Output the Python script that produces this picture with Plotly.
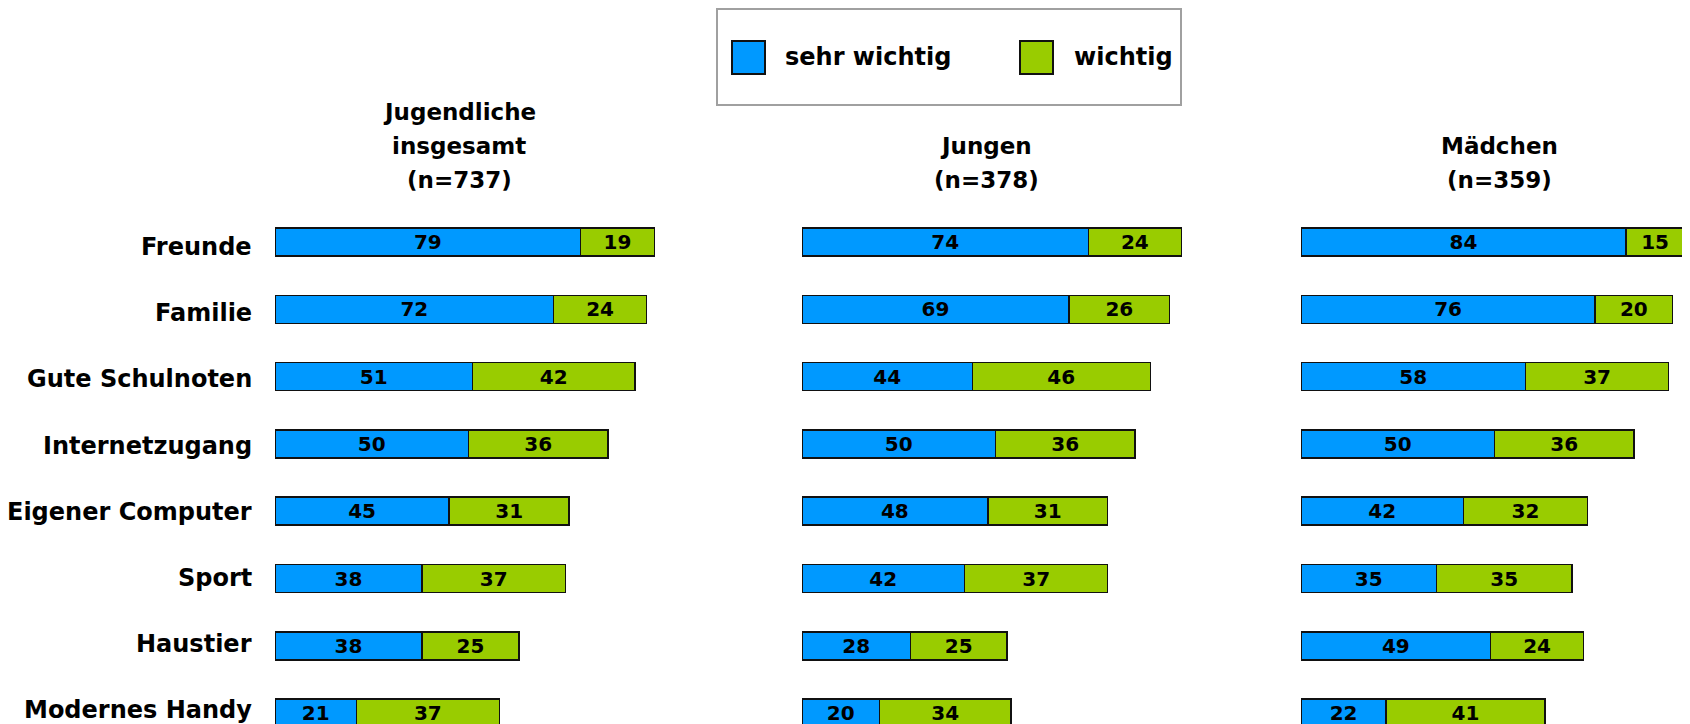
import plotly.graph_objects as go

categories = ["Freunde", "Familie", "Gute Schulnoten", "Internetzugang",
              "Eigener Computer", "Sport", "Haustier", "Modernes Handy"]
series_names = ["sehr wichtig", "wichtig"]
panel_titles = [["Jugendliche", "insgesamt", "(n=737)"], ["Jungen", "(n=378)"], ["Mädchen", "(n=359)"]]

gesamt_sehr = [79, 72, 51, 50, 45, 38, 38, 21]
gesamt_wichtig = [19, 24, 42, 36, 31, 37, 25, 37]
jungen_sehr = [74, 69, 44, 50, 48, 42, 28, 20]
jungen_wichtig = [24, 26, 46, 36, 31, 37, 25, 34]
maedchen_sehr = [84, 76, 58, 50, 42, 35, 49, 22]
maedchen_wichtig = [15, 20, 37, 36, 32, 35, 24, 41]

colors = ["#0099FF", "#99CC00"]
OFF = 8  # page body margin
W, H = 1690 - OFF, 724 - OFF
FONT = "DejaVu Sans"


def px(x):
    return (x - OFF) / W


def py(y):
    return 1 - (y - OFF) / H


panels = [(gesamt_sehr, gesamt_wichtig), (jungen_sehr, jungen_wichtig), (maedchen_sehr, maedchen_wichtig)]
domains_px = [(275, 662), (802, 1189), (1301, 1688)]
title_x_px = [459, 986, 1499]

# row geometry (viewport px): first row centre 242, pitch 67.3
row0, pitch = 242, 67.3
top_units = (row0 - OFF) / pitch
bottom_units = H / pitch - top_units
# label rows (slightly tighter pitch than the bars, as in the original)
label0, label_pitch = 247.2, 66.15

fig = go.Figure()
for i, (sehr, wichtig) in enumerate(panels):
    xa = "x" if i == 0 else f"x{i+1}"
    ya = "y" if i == 0 else f"y{i+1}"
    for vals, name, col in zip((sehr, wichtig), series_names, colors):
        fig.add_trace(go.Bar(
            y=categories, x=vals, orientation="h", name=name,
            marker=dict(color=col, line=dict(color="#111111", width=1.5)),
            width=28 / pitch, text=vals, textposition="inside",
            insidetextanchor="middle", textangle=0,
            textfont=dict(family=FONT, size=20, color="black", weight="bold"),
            xaxis=xa, yaxis=ya, showlegend=False, hoverinfo="skip"))

layout = dict(
    width=W, height=H, margin=dict(l=0, r=0, t=0, b=0),
    paper_bgcolor="white", plot_bgcolor="white", barmode="stack",
    uniformtext=dict(mode="show", minsize=20),
    font=dict(family=FONT, color="black"),
)
for i, (a, b) in enumerate(domains_px):
    sfx = "" if i == 0 else str(i + 1)
    layout[f"xaxis{sfx}"] = dict(domain=[px(a), px(b)], range=[0, 100], visible=False, fixedrange=True)
    yax = dict(domain=[0, 1], range=[bottom_units - 1e-9, -top_units], showgrid=False, zeroline=False,
               showline=False, ticks="", fixedrange=True, showticklabels=False,
               anchor="x" if i == 0 else f"x{i+1}")
    if i > 0:
        yax.update(matches="y")
    layout[f"yaxis{sfx}"] = yax
fig.update_layout(**layout)

# category labels (left of first panel)
for k, c in enumerate(categories):
    fig.add_annotation(x=px(domains_px[0][0] - 21), y=py(label0 + label_pitch * k),
                       xref="paper", yref="paper",
                       text=c, showarrow=False, xanchor="right", yanchor="middle",
                       font=dict(family=FONT, size=24, color="black", weight="bold"))

# panel titles
for tx, lines in zip(title_x_px, panel_titles):
    ys = [112, 145.5, 180] if len(lines) == 3 else [145.5, 180]
    for t, yy in zip(lines, ys):
        fig.add_annotation(x=px(tx), y=py(yy), xref="paper", yref="paper",
                           text=t, showarrow=False, xanchor="center", yanchor="middle",
                           font=dict(family=FONT, size=23, color="black", weight="bold"))

# custom legend
fig.add_shape(type="rect", xref="paper", yref="paper",
              x0=px(717), x1=px(1181), y0=py(9), y1=py(105),
              line=dict(color="#A0A0A0", width=2), fillcolor="white")
leg_sq = [732, 1020]
leg_tx = [783, 1072]
for name, col, sx, tx in zip(series_names, colors, leg_sq, leg_tx):
    fig.add_shape(type="rect", xref="paper", yref="paper",
                  x0=px(sx), x1=px(sx + 33), y0=py(41), y1=py(74),
                  line=dict(color="#111111", width=2), fillcolor=col)
    fig.add_annotation(x=px(tx), y=py(57), xref="paper", yref="paper",
                       text=name, showarrow=False, xanchor="left", yanchor="middle",
                       font=dict(family=FONT, size=24, color="black", weight="bold"))

fig.write_html("out.html")
